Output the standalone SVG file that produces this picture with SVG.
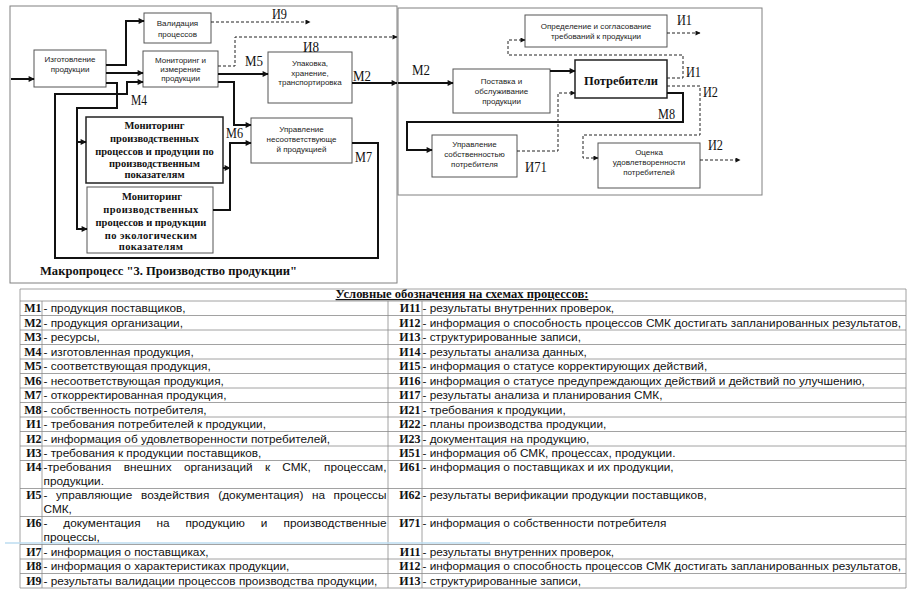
<svg xmlns="http://www.w3.org/2000/svg" width="914" height="612" viewBox="0 0 914 612">
<defs>
<marker id="ah" viewBox="0 0 10 10" refX="9" refY="5" markerWidth="7" markerHeight="6" markerUnits="userSpaceOnUse" orient="auto"><path d="M0,0L10,5L0,10z" fill="#111"/></marker>
<marker id="ahd" viewBox="0 0 10 10" refX="9" refY="5" markerWidth="6" markerHeight="5" markerUnits="userSpaceOnUse" orient="auto"><path d="M0,0L10,5L0,10z" fill="#111"/></marker>
</defs>
<style>
.frame{fill:none;stroke:#808080;stroke-width:1}
.box{fill:#fff;stroke:#555;stroke-width:1}
.boxb{fill:#fff;stroke:#222;stroke-width:1.5}
.t{font-family:"Liberation Sans",Arial,sans-serif;font-size:8px;fill:#222;text-anchor:middle}
.mb{font-family:"Liberation Serif","Times New Roman",serif;font-weight:bold;font-size:10.5px;fill:#111;text-anchor:middle}
.c{fill:none;stroke:#111;stroke-width:2;marker-end:url(#ah)}
.d{fill:none;stroke:#222;stroke-width:1;stroke-dasharray:3 2;marker-end:url(#ahd)}
.lbl{font-family:"Liberation Serif","Times New Roman",serif;font-size:15px;fill:#111}
.grid{stroke:#8a8a8a;stroke-width:0.8;fill:none}
.tx{font-family:"Liberation Sans",Arial,sans-serif;font-size:11.8px;fill:#111}
.tk{font-family:"Liberation Serif","Times New Roman",serif;font-size:12px;font-weight:bold;fill:#111;text-anchor:end}
</style>
<rect width="914" height="612" fill="#fff"/>

<g id="frames">
<rect class="frame" x="10" y="6" width="387" height="277"/>
<rect class="frame" x="398" y="8" width="364" height="187"/>
<text x="40" y="275" font-family="'Liberation Serif','Times New Roman',serif" font-size="12.5" font-weight="bold" fill="#111" textLength="257" lengthAdjust="spacingAndGlyphs">Макропроцесс "3. Производство продукции"</text>
</g>

<g id="n-validation"><rect class="box" x="144" y="13" width="67" height="30"/><text class="t" x="177.5" y="26">Валидация</text><text class="t" x="177.5" y="37">процессов</text></g>
<g id="n-manufacture"><rect class="box" x="34" y="50" width="72" height="37"/><text class="t" x="70" y="62">Изготовление</text><text class="t" x="70" y="72">продукции</text></g>
<g id="n-monitoring"><rect class="box" x="143" y="51" width="75" height="36"/><text class="t" x="180.5" y="63">Мониторинг и</text><text class="t" x="180.5" y="72">измерение</text><text class="t" x="180.5" y="81">продукции</text></g>
<g id="n-packing"><rect class="box" x="268" y="52" width="84" height="51"/><text class="t" x="310" y="66">Упаковка,</text><text class="t" x="310" y="75.5">хранение,</text><text class="t" x="310" y="85">транспортировка</text></g>
<g id="n-nonconform"><rect class="box" x="251" y="118" width="101" height="45"/><text class="t" x="301.5" y="132">Управление</text><text class="t" x="301.5" y="142">несоответствующе</text><text class="t" x="301.5" y="152">й продукцией</text></g>
<g id="n-mon-prod"><rect class="boxb" x="86" y="117" width="137" height="66"/>
<text class="mb" x="154.5" y="129" font-size="11">Мониторинг</text><text class="mb" x="154.5" y="142">производственных</text><text class="mb" x="154.5" y="154.5">процессов и продуции по</text><text class="mb" x="154.5" y="166.5">производственным</text><text class="mb" x="154.5" y="178">показателям</text></g>
<g id="n-mon-eco"><rect class="box" x="87" y="187" width="126" height="66"/>
<text class="mb" x="152" y="200" font-size="11">Мониторинг</text><text class="mb" x="151" y="213" letter-spacing="0.4">производственных</text><text class="mb" x="151" y="226">процессов и продукции</text><text class="mb" x="151" y="239" letter-spacing="0.4">по экологическим</text><text class="mb" x="151" y="250" letter-spacing="0.4">показателям</text></g>

<g id="n-requirements"><rect class="box" x="525" y="15" width="142" height="32"/><text class="t" x="596" y="28.5">Определение и согласование</text><text class="t" x="596" y="39">требований к продукции</text></g>
<g id="n-delivery"><rect class="box" x="453" y="69" width="97" height="44"/><text class="t" x="501.5" y="84">Поставка и</text><text class="t" x="501.5" y="94">обслуживание</text><text class="t" x="501.5" y="104">продукции</text></g>
<g id="n-consumers"><rect class="boxb" x="575" y="60" width="92" height="38"/><text x="621" y="85" text-anchor="middle" font-family="'Liberation Serif','Times New Roman',serif" font-size="12.5" font-weight="bold" fill="#111">Потребители</text></g>
<g id="n-property"><rect class="box" x="432" y="135" width="85" height="42"/><text class="t" x="474.5" y="147">Управление</text><text class="t" x="474.5" y="157">собственностью</text><text class="t" x="474.5" y="167">потребителя</text></g>
<g id="n-satisfaction"><rect class="box" x="598" y="143" width="102" height="45"/><text class="t" x="649" y="155">Оценка</text><text class="t" x="649" y="165">удовлетворенности</text><text class="t" x="649" y="175">потребителей</text></g>

<g id="connectors">
<path class="c" d="M11,79H34"/>
<path class="c" d="M106,65H126V21H144"/>
<path class="c" d="M106,73H143"/>
<path class="c" d="M106,83H117V108H77V229H87"/>
<path class="c" d="M77,142H86"/>
<path class="c" d="M352,143H378V258H55V94H127V82H143" stroke-width="2.5"/>
<path class="c" d="M218,74H268"/>
<path class="c" d="M352,83H397"/>
<path class="c" d="M218,82H234V125H251"/>
<path class="c" d="M223,168H230"/>
<path class="c" d="M213,210H230V143H251"/>
<path class="d" d="M218,66H235V37H397"/>
<path class="d" d="M211,22H310"/>
<path class="c" d="M398,83H453" stroke-width="1.6"/>
<path class="c" d="M550,71H575" stroke-width="1.6"/>
<path class="c" d="M667,93H683V122H407V150H432" stroke-width="1.6"/>
<path class="d" d="M667,33H700"/>
<path class="d" d="M667,78H683V55H508V40H525"/>
<path class="d" d="M667,86H700V135H583V158H598"/>
<path class="d" d="M517,151H558V93H575"/>
<path class="d" d="M700,160H740"/>
</g>
<g id="connector-labels">
<text class="lbl" x="272" y="19" font-size="14" textLength="15" lengthAdjust="spacingAndGlyphs">И9</text>
<text class="lbl" x="303" y="52" textLength="16" lengthAdjust="spacingAndGlyphs">И8</text>
<text class="lbl" x="245" y="66" textLength="18" lengthAdjust="spacingAndGlyphs">М5</text>
<text class="lbl" x="353" y="81" font-size="16" textLength="18" lengthAdjust="spacingAndGlyphs">М2</text>
<text class="lbl" x="131" y="105" textLength="16" lengthAdjust="spacingAndGlyphs">М4</text>
<text class="lbl" x="226" y="138" font-size="14" textLength="17" lengthAdjust="spacingAndGlyphs">М6</text>
<text class="lbl" x="355" y="162" font-size="14" textLength="17" lengthAdjust="spacingAndGlyphs">М7</text>
<text class="lbl" x="412" y="75" font-size="16" textLength="18" lengthAdjust="spacingAndGlyphs">М2</text>
<text class="lbl" x="677" y="25" textLength="15" lengthAdjust="spacingAndGlyphs">И1</text>
<text class="lbl" x="686" y="77" textLength="15" lengthAdjust="spacingAndGlyphs">И1</text>
<text class="lbl" x="703" y="97" textLength="15" lengthAdjust="spacingAndGlyphs">И2</text>
<text class="lbl" x="658" y="119" font-size="14" textLength="17" lengthAdjust="spacingAndGlyphs">М8</text>
<text class="lbl" x="525" y="172" textLength="22" lengthAdjust="spacingAndGlyphs">И71</text>
<text class="lbl" x="708" y="150" textLength="15" lengthAdjust="spacingAndGlyphs">И2</text>
</g>

<g id="legend">
<text x="462" y="298" text-anchor="middle" font-family="'Liberation Serif','Times New Roman',serif" font-size="12.6" font-weight="bold" text-decoration="underline" fill="#111">Условные обозначения на схемах процессов:</text>
<path class="grid" d="M20,289H906M20,301H906M20,315.5H906M20,330H906M20,344.5H906M20,359H906M20,373.5H906M20,388H906M20,402.5H906M20,417H906M20,431.5H906M20,446H906M20,460.5H906M20,488.5H906M20,516.5H906M20,544.5H906M20,559H906M20,573.5H906M20,588H906M20,289V588M906,289V588M42,301V588M388,301V588M422,301V588"/>
<line x1="5" y1="543" x2="490" y2="543" stroke="#bcdcf0" stroke-width="1.5"/>
<text class="tk" x="41.5" y="312">М1</text><text class="tx" x="43.5" y="312">- продукция поставщиков,</text>
<text class="tk" x="41.5" y="326.5">М2</text><text class="tx" x="43.5" y="326.5">- продукция организации,</text>
<text class="tk" x="41.5" y="341">М3</text><text class="tx" x="43.5" y="341">- ресурсы,</text>
<text class="tk" x="41.5" y="355.5">М4</text><text class="tx" x="43.5" y="355.5">- изготовленная продукция,</text>
<text class="tk" x="41.5" y="370">М5</text><text class="tx" x="43.5" y="370">- соответствующая продукция,</text>
<text class="tk" x="41.5" y="384.5">М6</text><text class="tx" x="43.5" y="384.5">- несоответствующая продукция,</text>
<text class="tk" x="41.5" y="399">М7</text><text class="tx" x="43.5" y="399">- откорректированная продукция,</text>
<text class="tk" x="41.5" y="413.5">М8</text><text class="tx" x="43.5" y="413.5">- собственность потребителя,</text>
<text class="tk" x="41.5" y="428">И1</text><text class="tx" x="43.5" y="428">- требования потребителей к продукции,</text>
<text class="tk" x="41.5" y="442.5">И2</text><text class="tx" x="43.5" y="442.5">- информация об удовлетворенности потребителей,</text>
<text class="tk" x="41.5" y="457">И3</text><text class="tx" x="43.5" y="457">- требования к продукции поставщиков,</text>
<text class="tk" x="41.5" y="471">И4</text>
<text class="tx" y="471"><tspan x="43.5">-требования</tspan><tspan x="123.8">внешних</tspan><tspan x="183.9">организаций</tspan><tspan x="265">к</tspan><tspan x="282.3">СМК,</tspan></text><text class="tx" x="386.5" y="471" text-anchor="end">процессам,</text>
<text class="tx" x="43.5" y="484.8">продукции.</text>
<text class="tk" x="41.5" y="499">И5</text>
<text class="tx" y="499"><tspan x="43.5">-</tspan><tspan x="55.9">управляющие</tspan><tspan x="141">воздействия</tspan><tspan x="218.3">(документация)</tspan><tspan x="312">на</tspan></text><text class="tx" x="386.5" y="499" text-anchor="end">процессы</text>
<text class="tx" x="43.5" y="512.8">СМК,</text>
<text class="tk" x="41.5" y="527">И6</text>
<text class="tx" y="527"><tspan x="43.5">-</tspan><tspan x="63.3">документация</tspan><tspan x="156.5">на</tspan><tspan x="185.4">продукцию</tspan><tspan x="260.8">и</tspan></text><text class="tx" x="386.5" y="527" text-anchor="end">производственные</text>
<text class="tx" x="43.5" y="540.8">процессы,</text>
<text class="tk" x="41.5" y="555.5">И7</text><text class="tx" x="43.5" y="555.5">- информация о поставщиках,</text>
<text class="tk" x="41.5" y="570">И8</text><text class="tx" x="43.5" y="570">- информация о характеристиках продукции,</text>
<text class="tk" x="41.5" y="584.5">И9</text><text class="tx" x="43.5" y="584.5">- результаты валидации процессов производства продукции,</text>

<text class="tk" x="420.5" y="312">И11</text><text class="tx" x="422.5" y="312">- результаты внутренних проверок,</text>
<text class="tk" x="420.5" y="326.5">И12</text><text class="tx" x="422.5" y="326.5">- информация о способность процессов СМК достигать запланированных результатов,</text>
<text class="tk" x="420.5" y="341">И13</text><text class="tx" x="422.5" y="341">- структурированные записи,</text>
<text class="tk" x="420.5" y="355.5">И14</text><text class="tx" x="422.5" y="355.5">- результаты анализа данных,</text>
<text class="tk" x="420.5" y="370">И15</text><text class="tx" x="422.5" y="370">- информация о статусе корректирующих действий,</text>
<text class="tk" x="420.5" y="384.5">И16</text><text class="tx" x="422.5" y="384.5">- информация о статусе предупреждающих действий и действий по улучшению,</text>
<text class="tk" x="420.5" y="399">И17</text><text class="tx" x="422.5" y="399">- результаты анализа и планирования СМК,</text>
<text class="tk" x="420.5" y="413.5">И21</text><text class="tx" x="422.5" y="413.5">- требования к продукции,</text>
<text class="tk" x="420.5" y="428">И22</text><text class="tx" x="422.5" y="428">- планы производства продукции,</text>
<text class="tk" x="420.5" y="442.5">И23</text><text class="tx" x="422.5" y="442.5">- документация на продукцию,</text>
<text class="tk" x="420.5" y="457">И51</text><text class="tx" x="422.5" y="457">- информация об СМК, процессах, продукции.</text>
<text class="tk" x="420.5" y="471">И61</text><text class="tx" x="422.5" y="471">- информация о поставщиках и их продукции,</text>
<text class="tk" x="420.5" y="499">И62</text><text class="tx" x="422.5" y="499">- результаты верификации продукции поставщиков,</text>
<text class="tk" x="420.5" y="527">И71</text><text class="tx" x="422.5" y="527">- информация о собственности потребителя</text>
<text class="tk" x="420.5" y="555.5">И11</text><text class="tx" x="422.5" y="555.5">- результаты внутренних проверок,</text>
<text class="tk" x="420.5" y="570">И12</text><text class="tx" x="422.5" y="570">- информация о способность процессов СМК достигать запланированных результатов,</text>
<text class="tk" x="420.5" y="584.5">И13</text><text class="tx" x="422.5" y="584.5">- структурированные записи,</text>
</g>
</svg>
